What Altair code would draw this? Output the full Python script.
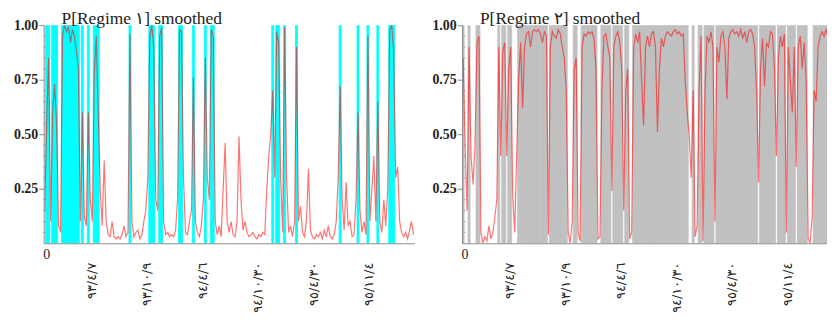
import altair as alt
import pandas as pd

# smoothed probability of regime 1 (one value every observation step)
p1 = [
    0.15, 0.55, 0.85, 0.10, 0.60, 0.73, 0.55, 0.08, 0.05, 0.95,
    1.00, 0.97, 0.99, 0.92, 0.98, 0.95, 0.88, 0.80, 0.10, 0.60,
    0.12, 0.08, 0.60, 0.20, 0.10, 0.78, 0.95, 0.60, 0.25, 0.08,
    0.38, 0.10, 0.04, 0.03, 0.10, 0.03, 0.02, 0.03, 0.02, 0.04,
    0.08, 0.03, 0.05, 0.96, 0.10, 0.03, 0.05, 0.06, 0.02, 0.04,
    0.10, 0.15, 0.30, 0.95, 1.00, 0.90, 0.20, 0.15, 0.95, 0.99,
    0.10, 0.04, 0.05, 0.03, 0.04, 0.03, 0.06, 0.20, 0.98, 0.97,
    0.30, 0.05, 0.04, 0.10, 0.15, 0.76, 0.10, 0.05, 0.03, 0.08,
    0.20, 0.85, 0.30, 0.20, 0.98, 0.95, 0.10, 0.04, 0.08, 0.03,
    0.25, 0.46, 0.10, 0.05, 0.10, 0.04, 0.03, 0.10, 0.49, 0.20,
    0.06, 0.10, 0.05, 0.03, 0.04, 0.05, 0.03, 0.02, 0.04, 0.03,
    0.05, 0.04, 0.25, 0.40, 0.50, 0.70, 0.30, 0.97, 0.92, 0.30,
    0.05, 0.99, 0.30, 0.05, 0.08, 0.03, 0.10, 0.90, 0.10, 0.17,
    0.05, 0.03, 0.10, 0.34, 0.06, 0.03, 0.02, 0.04, 0.03, 0.05,
    0.02, 0.06, 0.03, 0.08, 0.03, 0.02, 0.04, 0.10, 0.30, 0.72,
    0.20, 0.06, 0.28, 0.08, 0.10, 0.03, 0.04, 0.20, 0.60, 0.15,
    0.05, 0.10, 0.04, 0.95, 0.10, 0.25, 0.40, 0.10, 0.65, 0.10,
    0.05, 0.20, 0.08, 0.25, 0.98, 1.00, 0.88, 0.30, 0.35, 0.10,
    0.05, 0.03, 0.05, 0.02, 0.06, 0.10, 0.04,
]
# regime 2 is the complement of regime 1
p2 = [round(1 - v, 2) for v in p1]

tick_idx = [24, 52, 80, 108, 136, 164]
tick_labels = ["٩٣/٤/٧", "٩٣/١٠/٩", "٩٤/٤/٦", "٩٤/١٠/٣٠", "٩٥/٤/٣٠", "٩٥/١١/٤"]
y_ticks = [0.25, 0.5, 0.75, 1.0]
minor_ticks = [0.05, 0.1, 0.15, 0.2, 0.3, 0.35, 0.4, 0.45, 0.55, 0.6, 0.65,
               0.7, 0.8, 0.85, 0.9, 0.95]
titles = ["P[Regime ١] smoothed", "P[Regime ٢] smoothed"]

n = len(p1)
df = pd.DataFrame({
    "i": list(range(n)),
    "i1": [k + 1 for k in range(n)],
    "xc": [k + 0.5 for k in range(n)],
    "lo": [0.0] * n,
    "hi": [1.0] * n,
    "p1": p1,
    "p2": p2,
})
minor_df = pd.DataFrame({"m": minor_ticks})

label_expr = ("[" + ",".join("'" + s + "'" for s in tick_labels) + "][indexof(["
              + ",".join(str(v) for v in tick_idx) + "], datum.value)]")

AX = "#8a8a8a"


def panel(title, col, fill, xmax, width):
    xs = alt.Scale(domain=[0, xmax], nice=False, zero=False)
    ys = alt.Scale(domain=[0, 1], nice=False)
    xaxis = alt.Axis(values=tick_idx, labelExpr=label_expr, labelAngle=-90,
                     labelFont="DejaVu Sans", labelFontSize=13, labelPadding=19,
                     labelColor="#222", ticks=False, domainColor=AX, grid=False,
                     title=None, zindex=1, labelOverlap=False, labelBound=False)
    yaxis = alt.Axis(values=y_ticks, format=".2f", labelFont="Liberation Serif",
                     labelFontSize=14, labelFontWeight="bold", labelColor="#222",
                     tickSize=5, tickColor=AX, domainColor=AX, labelPadding=1,
                     grid=False, title=None, zindex=1)
    base = alt.Chart(df)
    bars = base.transform_filter(alt.datum[col] > 0.5).mark_rect(
        color=fill, stroke=fill, strokeWidth=0.8, clip=True).encode(
        x=alt.X("i:Q", scale=xs, axis=xaxis), x2="i1:Q",
        y=alt.Y("lo:Q", scale=ys, axis=yaxis), y2="hi:Q")
    line = base.mark_line(color="#ff0000", strokeWidth=1.2, opacity=0.55,
                          clip=True).encode(
        x=alt.X("xc:Q", scale=xs), y=alt.Y(f"{col}:Q", scale=ys))
    minor = alt.Chart(minor_df).mark_rule(color=AX, strokeWidth=1).encode(
        y=alt.Y("m:Q", scale=ys), x=alt.datum(0), x2=alt.datum(1.6))
    zero = alt.Chart(df.head(1)).mark_text(
        text="0", font="Liberation Serif", fontSize=14, baseline="top",
        align="center", dx=3, dy=5, color="#222").encode(
        x=alt.datum(0), y=alt.datum(0))
    return alt.layer(minor, bars, line, zero).properties(
        width=width, height=220,
        title=alt.TitleParams(title, anchor="start", frame="group", dx=18,
                              offset=-9, font="Liberation Serif", fontSize=17.5,
                              fontWeight="normal", color="#222"))


left = panel(titles[0], "p1", "#00ffff", n, 2 * n)
right = panel(titles[1], "p2", "#c0c0c0", 184, 368)

chart = alt.hconcat(left, right, spacing=17).properties(
    padding={"left": 5, "top": 0, "right": 0, "bottom": 0}
).configure_view(stroke=None)

chart.save("out.html", embed_options={"renderer": "svg", "actions": False})
